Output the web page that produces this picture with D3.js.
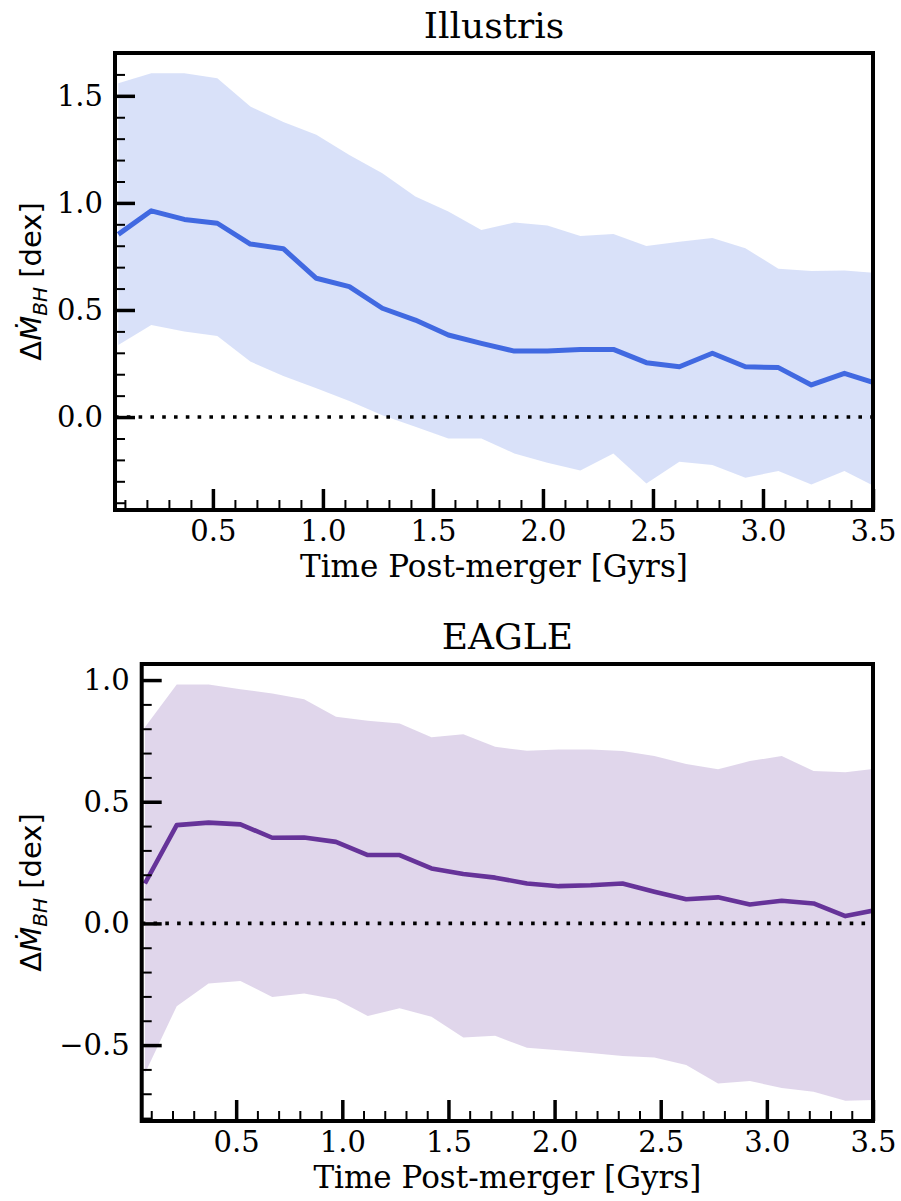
<!DOCTYPE html>
<html>
<head>
<meta charset="utf-8">
<script src="https://cdn.jsdelivr.net/npm/d3@7"></script>
<style>
  body { margin: 0; background: #ffffff; }
  svg { display: block; }
</style>
</head>
<body>
<svg id="fig" width="901" height="1201"></svg>
<script>
// Time since merger (Gyr) at each bin centre
const times = [0.07, 0.22, 0.37, 0.52, 0.67, 0.82, 0.97, 1.12, 1.27, 1.42, 1.57, 1.72,
               1.87, 2.02, 2.17, 2.32, 2.47, 2.62, 2.77, 2.92, 3.07, 3.22, 3.37, 3.52];

// Illustris: median enhancement and spread
const illustrisMedian = [0.853, 0.963, 0.923, 0.905, 0.808, 0.786, 0.648, 0.609, 0.508, 0.453, 0.383, 0.344,
                         0.308, 0.308, 0.316, 0.316, 0.254, 0.235, 0.298, 0.235, 0.231, 0.150, 0.204, 0.155];
const illustrisUpper  = [1.559, 1.606, 1.606, 1.582, 1.450, 1.378, 1.318, 1.224, 1.139, 1.030, 0.960, 0.874,
                         0.908, 0.894, 0.846, 0.855, 0.799, 0.819, 0.836, 0.788, 0.693, 0.682, 0.684, 0.672];
const illustrisLower  = [0.336, 0.430, 0.399, 0.379, 0.259, 0.192, 0.134, 0.075, 0.009, -0.045, -0.100, -0.100,
                         -0.170, -0.213, -0.250, -0.170, -0.310, -0.209, -0.224, -0.283, -0.252, -0.315, -0.252, -0.330];

// EAGLE: median enhancement and spread
const eagleMedian = [0.164, 0.404, 0.414, 0.407, 0.352, 0.353, 0.335, 0.281, 0.281, 0.226, 0.203, 0.188,
                     0.164, 0.153, 0.157, 0.164, 0.130, 0.099, 0.107, 0.078, 0.093, 0.082, 0.030, 0.056];
const eagleUpper  = [0.806, 0.982, 0.982, 0.962, 0.945, 0.921, 0.849, 0.833, 0.822, 0.765, 0.777, 0.726,
                     0.709, 0.715, 0.715, 0.708, 0.688, 0.655, 0.633, 0.667, 0.688, 0.626, 0.621, 0.637];
const eagleLower  = [-0.617, -0.340, -0.247, -0.237, -0.302, -0.288, -0.312, -0.380, -0.349, -0.384, -0.469, -0.462,
                     -0.511, -0.521, -0.533, -0.545, -0.551, -0.582, -0.658, -0.648, -0.676, -0.692, -0.729, -0.725];

// Tick labels
const xTickValues = [0.5, 1.0, 1.5, 2.0, 2.5, 3.0, 3.5];
const illustrisYTicks = [0.0, 0.5, 1.0, 1.5];
const eagleYTicks = [-0.5, 0.0, 0.5, 1.0];

const titles = ["Illustris", "EAGLE"];
const xLabel = "Time Post-merger [Gyrs]";

const svg = d3.select("#fig");
const serif = "'DejaVu Serif', serif";
const sans = "'DejaVu Sans', sans-serif";
const fmt = d3.format(".1f");

const panels = [
  {
    title: titles[0], median: illustrisMedian, upper: illustrisUpper, lower: illustrisLower,
    yTicks: illustrisYTicks, yDomain: [-0.434, 1.70],
    line: "#4169e1", fill: "#4169e1", lineWidth: 5,
    box: { left: 115, right: 873, top: 53, bottom: 510 }
  },
  {
    title: titles[1], median: eagleMedian, upper: eagleUpper, lower: eagleLower,
    yTicks: eagleYTicks, yDomain: [-0.812, 1.066],
    line: "#663399", fill: "#663399", lineWidth: 4.6,
    box: { left: 141.7, right: 873, top: 664, bottom: 1121 }
  }
];

panels.forEach((p, i) => {
  const b = p.box;
  const x = d3.scaleLinear().domain([0.055, 3.5]).range([b.left, b.right]);
  const y = d3.scaleLinear().domain(p.yDomain).range([b.bottom, b.top]);
  const g = svg.append("g");

  const clipId = "clip" + i;
  svg.append("defs").append("clipPath").attr("id", clipId)
    .append("rect").attr("x", b.left).attr("y", b.top)
    .attr("width", b.right - b.left).attr("height", b.bottom - b.top);

  const plot = g.append("g").attr("clip-path", `url(#${clipId})`);
  const rows = times.map((t, k) => ({ t, m: p.median[k], hi: p.upper[k], lo: p.lower[k] }));

  // spread band
  plot.append("path")
    .datum(rows)
    .attr("d", d3.area().x(d => x(d.t)).y0(d => y(d.lo)).y1(d => y(d.hi)))
    .attr("fill", p.fill).attr("fill-opacity", 0.2).attr("stroke", "none");

  // zero reference
  plot.append("line")
    .attr("x1", b.left).attr("x2", b.right)
    .attr("y1", y(0)).attr("y2", y(0))
    .attr("stroke", "#000").attr("stroke-width", 3.6)
    .attr("stroke-dasharray", "3.6 8.2");

  // median curve
  plot.append("path")
    .datum(rows)
    .attr("d", d3.line().x(d => x(d.t)).y(d => y(d.m)))
    .attr("fill", "none").attr("stroke", p.line)
    .attr("stroke-width", p.lineWidth).attr("stroke-linejoin", "round");

  // minor ticks (inward)
  const minorX = d3.range(0.1, 3.5001, 0.1).filter(v => v > 0.055 && Math.abs(v * 2 - Math.round(v * 2)) > 1e-6);
  const minorY = d3.range(-1.0, 2.0001, 0.1).filter(v => v >= p.yDomain[0] && v <= p.yDomain[1] && Math.abs(v * 2 - Math.round(v * 2)) > 1e-6);

  const xMinor = g.append("g").attr("transform", `translate(0,${b.bottom})`)
    .call(d3.axisBottom(x).tickValues(minorX).tickSizeInner(-10).tickSizeOuter(0).tickFormat(""));
  const yMinor = g.append("g").attr("transform", `translate(${b.left},0)`)
    .call(d3.axisLeft(y).tickValues(minorY).tickSizeInner(-10).tickSizeOuter(0).tickFormat(""));
  [xMinor, yMinor].forEach(a => {
    a.select(".domain").remove();
    a.selectAll("line").attr("stroke", "#000").attr("stroke-width", 2);
  });

  // major ticks and labels
  const xMajor = g.append("g").attr("transform", `translate(0,${b.bottom})`)
    .call(d3.axisBottom(x).tickValues(xTickValues).tickSizeInner(-21).tickSizeOuter(0)
      .tickPadding(10).tickFormat(fmt));
  const yMajor = g.append("g").attr("transform", `translate(${b.left},0)`)
    .call(d3.axisLeft(y).tickValues(p.yTicks).tickSizeInner(-20).tickSizeOuter(0)
      .tickPadding(12).tickFormat(fmt));
  [xMajor, yMajor].forEach(a => {
    a.select(".domain").remove();
    a.selectAll("line").attr("stroke", "#000").attr("stroke-width", 3.5);
    a.selectAll("text").attr("font-family", serif).attr("font-size", 29).attr("fill", "#000");
  });

  // frame
  g.append("rect")
    .attr("x", b.left).attr("y", b.top)
    .attr("width", b.right - b.left).attr("height", b.bottom - b.top)
    .attr("fill", "none").attr("stroke", "#000").attr("stroke-width", 4);

  // title
  g.append("text")
    .attr("x", (b.left + b.right) / 2).attr("y", b.top - 15)
    .attr("text-anchor", "middle")
    .attr("font-family", serif).attr("font-size", 36)
    .text(p.title);

  // x label
  g.append("text")
    .attr("x", (b.left + b.right) / 2).attr("y", b.bottom + 67)
    .attr("text-anchor", "middle")
    .attr("font-family", serif).attr("font-size", 31)
    .text(xLabel);

  // y label
  const yl = g.append("text")
    .attr("transform", `translate(41,${(b.top + b.bottom) / 2}) rotate(-90)`)
    .attr("text-anchor", "middle")
    .attr("font-family", sans).attr("font-size", 29);
  yl.append("tspan").text("Δ");
  yl.append("tspan").attr("font-style", "italic").text("Ṁ");
  yl.append("tspan").attr("font-style", "italic").attr("font-size", 20).attr("dy", 6).text("BH");
  yl.append("tspan").attr("dy", -6).text(" [dex]");
});
</script>
</body>
</html>
